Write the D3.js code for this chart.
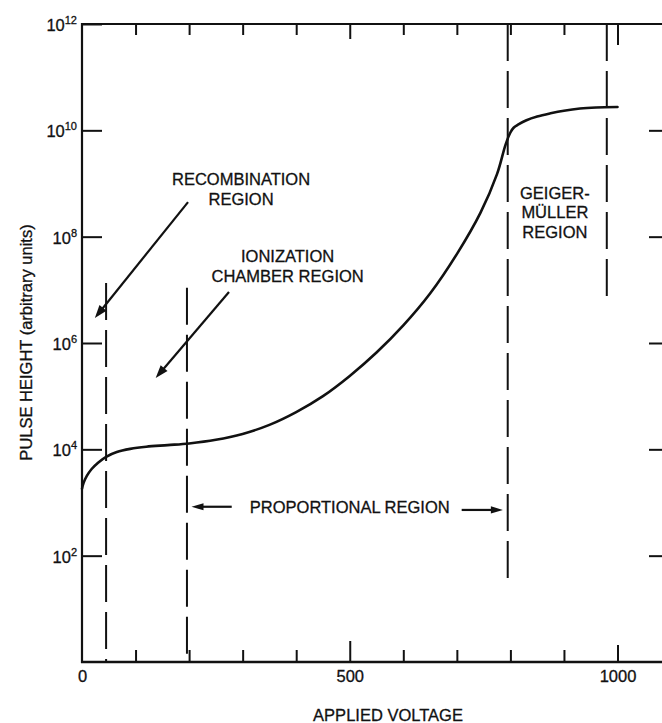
<!DOCTYPE html>
<html>
<head>
<meta charset="utf-8">
<script src="https://cdn.jsdelivr.net/npm/d3@7/dist/d3.min.js"></script>
<style>
  html, body { margin: 0; padding: 0; background: #fff; }
  svg { display: block; }
  text { font-family: "Liberation Sans", Arial, Helvetica, sans-serif; fill: #111; stroke: #111; stroke-width: 0.3px; }
</style>
</head>
<body>
<svg id="chart" width="662" height="723"></svg>
<script>
// Pulse height vs. applied voltage for a gas-filled detector
const voltage = [0, 3, 9, 18, 30, 45, 65, 90, 120, 160, 200, 250, 300, 350, 400, 450, 500, 550, 600, 650, 700, 744, 775, 791, 800, 806, 815, 830, 850, 875, 900, 930, 960, 1000];
const pulseHeight = [1820, 2340, 3160, 4270, 5620, 7240, 8910, 10200, 11200, 12000, 12900, 15100, 19500, 28800, 50100, 1.0e5, 2.4e5, 6.61e5, 2.14e6, 8.51e6, 4.7e7, 2.8e8, 1.5e9, 5.4e9, 9.1e9, 1.12e10, 1.29e10, 1.55e10, 1.82e10, 2.09e10, 2.34e10, 2.57e10, 2.69e10, 2.75e10];

// Axis ticks
const xTickValues = [100, 200, 300, 400, 500, 600, 700, 800, 900, 1000];
const xTickLabels = [0, 500, 1000];
const yTickExponents = [2, 4, 6, 8, 10, 12];

// Region boundaries (dashed verticals): voltage, upper and lower pulse height
const boundaryVoltage = [45, 196, 795, 980];
const boundaryTop = [1.35e7, 1.1e7, 1e12, 1e12];
const boundaryBottom = [1, 1, 38, 6.4e6];

// Region labels: lines, voltage of centre, exponent of first baseline
const labelLines = [["RECOMBINATION", "REGION"], ["IONIZATION", "CHAMBER REGION"], ["GEIGER-", "MÜLLER", "REGION"], ["PROPORTIONAL REGION"]];
const labelVoltage = [297, 384, 883, 500];
const labelExponent = [8.97, 7.52, 8.71, 2.80];

// Pointer arrows: start and tip, as voltage and power of ten
const arrowFromV = [198, 274.5, 279.6, 709];
const arrowFromE = [8.65, 6.96, 2.92, 2.86];
const arrowToV = [24, 137.6, 204.5, 786];
const arrowToE = [6.47, 5.34, 2.92, 2.86];

const svg = d3.select("#chart");
const plotLeft = 82, plotRight = 670, plotTop = 24, plotBottom = 662;

const x = d3.scaleLinear().domain([0, 1000]).range([plotLeft, 617.5]);
const y = d3.scaleLog().domain([1, 1e12]).range([plotBottom, plotTop]);
const lineH = 19.5;
const FONT = 16.5;

// Frame lines
const frame = svg.append("g").attr("stroke", "#111").attr("fill", "none");
frame.append("line").attr("x1", plotLeft).attr("x2", plotLeft).attr("y1", plotTop - 1).attr("y2", plotBottom + 1).attr("stroke-width", 2.2);
frame.append("line").attr("x1", plotLeft - 1).attr("x2", plotRight).attr("y1", plotBottom).attr("y2", plotBottom).attr("stroke-width", 2.6);
frame.append("line").attr("x1", plotLeft - 1).attr("x2", plotRight).attr("y1", plotTop).attr("y2", plotTop).attr("stroke-width", 2.2);

// Bottom axis with inward ticks
const majorLen = v => v === 500 ? 21 : v === 1000 ? 17 : 12;
const xAxis = d3.axisBottom(x)
  .tickValues([0].concat(xTickValues))
  .tickSizeInner(-12).tickSizeOuter(0).tickPadding(8.5)
  .tickFormat(d => xTickLabels.includes(d) ? d3.format("d")(d) : "");
const gx = svg.append("g").attr("transform", `translate(0,${plotBottom})`).call(xAxis);
gx.select(".domain").remove();
gx.selectAll(".tick line").attr("stroke", "#111").attr("stroke-width", 2)
  .attr("y2", d => d === 0 ? 0 : -majorLen(d));
gx.selectAll(".tick text").attr("font-size", FONT).attr("fill", "#111")
  .style("font-family", "'Liberation Sans', Arial, sans-serif");

// Top axis with inward ticks
const xTop = d3.axisTop(x).tickValues(xTickValues).tickSizeInner(-12).tickSizeOuter(0).tickFormat("");
const gt = svg.append("g").attr("transform", `translate(0,${plotTop})`).call(xTop);
gt.select(".domain").remove();
gt.selectAll(".tick line").attr("stroke", "#111").attr("stroke-width", 2)
  .attr("y2", d => d === 1000 ? 21 : d === 500 ? 15 : 11);

// Left axis
const yLeft = d3.axisLeft(y).tickValues(yTickExponents.map(e => Math.pow(10, e)))
  .tickSizeInner(-20).tickSizeOuter(0).tickFormat("");
const gl = svg.append("g").attr("transform", `translate(${plotLeft},0)`).call(yLeft);
gl.select(".domain").remove();
gl.selectAll(".tick line").attr("stroke", "#111").attr("stroke-width", 2);

// Right axis (ticks only)
const yRight = d3.axisRight(y).tickValues(yTickExponents.filter(e => e < 12).map(e => Math.pow(10, e)))
  .tickSizeInner(-21).tickSizeOuter(0).tickFormat("");
const gr = svg.append("g").attr("transform", `translate(${plotRight},0)`).call(yRight);
gr.select(".domain").remove();
gr.selectAll(".tick line").attr("stroke", "#111").attr("stroke-width", 2);

// Power-of-ten labels
const yl = svg.append("g");
yTickExponents.forEach(e => {
  const t = yl.append("text")
    .attr("x", 77).attr("y", y(Math.pow(10, e)) + 7)
    .attr("text-anchor", "end").attr("font-size", FONT);
  t.append("tspan").text("10");
  t.append("tspan").attr("dy", -7).attr("font-size", 11).text(e);
});

// Axis titles
svg.append("text")
  .attr("x", 388).attr("y", 721)
  .attr("text-anchor", "middle").attr("font-size", FONT)
  .text("APPLIED VOLTAGE");
svg.append("text")
  .attr("transform", "translate(32,342.5) rotate(-90)")
  .attr("text-anchor", "middle").attr("font-size", FONT)
  .text("PULSE HEIGHT (arbitrary units)");

// Region boundaries
const dash = svg.append("g").attr("stroke", "#111").attr("stroke-width", 2).attr("fill", "none")
  .attr("stroke-dasharray", "37,10");
boundaryVoltage.forEach((v, i) => {
  dash.append("line")
    .attr("x1", x(v)).attr("x2", x(v))
    .attr("y1", y(boundaryTop[i])).attr("y2", y(boundaryBottom[i]));
});

// Response curve
const line = d3.line()
  .x((d, i) => x(voltage[i]))
  .y(d => y(d))
  .curve(d3.curveCatmullRom.alpha(0.5));
svg.append("path")
  .datum(pulseHeight)
  .attr("d", line)
  .attr("fill", "none")
  .attr("stroke", "#111")
  .attr("stroke-width", 2.6)
  .attr("stroke-linecap", "round");

// Region labels
labelLines.forEach((lines, i) => {
  const t = svg.append("text")
    .attr("x", x(labelVoltage[i]))
    .attr("y", y(Math.pow(10, labelExponent[i])))
    .attr("text-anchor", "middle")
    .attr("font-size", FONT);
  lines.forEach((s, j) => {
    t.append("tspan").attr("x", x(labelVoltage[i])).attr("dy", j === 0 ? 0 : lineH).text(s);
  });
});

// Arrows
const ag = svg.append("g");
arrowFromV.forEach((v, i) => {
  const x1 = x(v), y1 = y(Math.pow(10, arrowFromE[i]));
  const x2 = x(arrowToV[i]), y2 = y(Math.pow(10, arrowToE[i]));
  const ang = Math.atan2(y2 - y1, x2 - x1);
  const headLen = i < 2 ? 13 : 12;
  const halfW = i < 2 ? 4.5 : 3.6;
  const bx = x2 - headLen * Math.cos(ang), by = y2 - headLen * Math.sin(ang);
  ag.append("line")
    .attr("x1", x1).attr("y1", y1).attr("x2", bx + 2 * Math.cos(ang)).attr("y2", by + 2 * Math.sin(ang))
    .attr("stroke", "#111").attr("stroke-width", 2.2);
  const px = -Math.sin(ang), py = Math.cos(ang);
  ag.append("path")
    .attr("d", `M${x2},${y2}L${bx + halfW * px},${by + halfW * py}L${bx - halfW * px},${by - halfW * py}Z`)
    .attr("fill", "#111");
});
</script>
</body>
</html>
